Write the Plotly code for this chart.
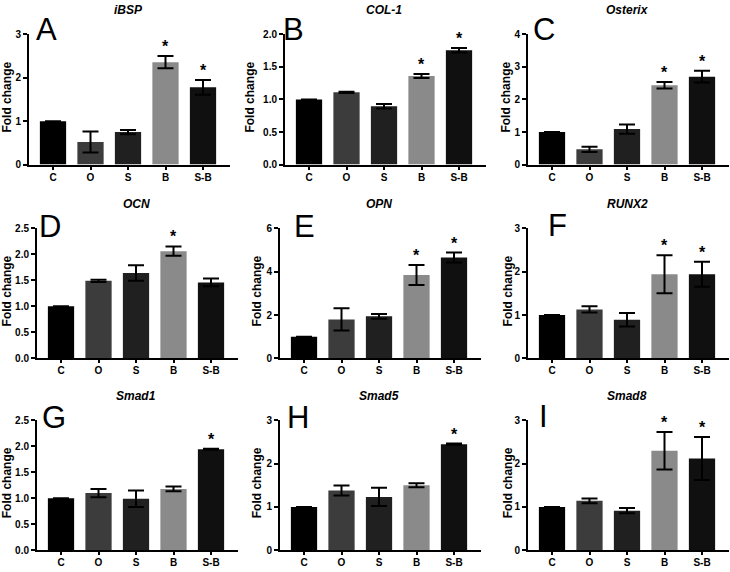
import plotly.graph_objects as go

categories = ["C", "O", "S", "B", "S-B"]
bar_colors = ["#000000", "#3c3c3c", "#202020", "#8a8a8a", "#101010"]

genes = ["iBSP", "COL-1", "Osterix", "OCN", "OPN", "RUNX2", "Smad1", "Smad5", "Smad8"]
letters = ["A", "B", "C", "D", "E", "F", "G", "H", "I"]

# control group (C) has no error bar -> None
ibsp_mean = [1.0, 0.52, 0.75, 2.36, 1.78]
ibsp_err = [None, 0.24, 0.05, 0.14, 0.17]
ibsp_sig = [False, False, False, True, True]

col1_mean = [1.0, 1.11, 0.895, 1.36, 1.755]
col1_err = [None, 0.01, 0.035, 0.03, 0.035]
col1_sig = [False, False, False, True, True]

osx_mean = [1.0, 0.47, 1.09, 2.44, 2.7]
osx_err = [None, 0.08, 0.14, 0.10, 0.18]
osx_sig = [False, False, False, True, True]

ocn_mean = [1.0, 1.49, 1.64, 2.06, 1.46]
ocn_err = [None, 0.02, 0.15, 0.09, 0.075]
ocn_sig = [False, False, False, True, False]

opn_mean = [1.0, 1.8, 1.94, 3.85, 4.65]
opn_err = [None, 0.51, 0.11, 0.46, 0.23]
opn_sig = [False, False, False, True, True]

runx2_mean = [1.0, 1.13, 0.89, 1.94, 1.94]
runx2_err = [None, 0.07, 0.155, 0.44, 0.29]
runx2_sig = [False, False, False, True, True]

smad1_mean = [1.0, 1.1, 0.99, 1.18, 1.94]
smad1_err = [None, 0.08, 0.16, 0.045, 0.01]
smad1_sig = [False, False, False, False, True]

smad5_mean = [1.0, 1.38, 1.23, 1.5, 2.445]
smad5_err = [None, 0.115, 0.21, 0.045, 0.015]
smad5_sig = [False, False, False, False, True]

smad8_mean = [1.0, 1.14, 0.915, 2.295, 2.115]
smad8_err = [None, 0.055, 0.06, 0.43, 0.495]
smad8_sig = [False, False, False, True, True]

y_max = [3, 2.0, 4, 2.5, 6, 3, 2.5, 3, 3]
y_dtick = [1, 0.5, 1, 0.5, 2, 1, 0.5, 1, 1]
y_fmt = ["d", ".1f", "d", ".1f", "d", "d", ".1f", "d", "d"]

means = [ibsp_mean, col1_mean, osx_mean, ocn_mean, opn_mean, runx2_mean, smad1_mean, smad5_mean, smad8_mean]
errs = [ibsp_err, col1_err, osx_err, ocn_err, opn_err, runx2_err, smad1_err, smad5_err, smad8_err]
sigs = [ibsp_sig, col1_sig, osx_sig, ocn_sig, opn_sig, runx2_sig, smad1_sig, smad5_sig, smad8_sig]

W, H = 730, 572
# layout geometry (pixels)
axis_left = [29, 285, 528, 37, 280, 528, 37, 280, 528]
axis_w = 201
row_top = [29, 227, 423]
row_bot = [162, 360, 556]
ylab_x = [7, 250, 506, 7, 257, 508, 7, 257, 508]
letter_x = [34, 281, 531, 37, 292, 546, 40, 285, 537]
letter_y = [24, 24, 24, 225, 225, 224, 420, 420, 419]

FONT = "Arial, Liberation Sans, Helvetica, sans-serif"

fig = go.Figure()
annotations = []

for i in range(9):
    r = i // 3
    ax = "" if i == 0 else str(i + 1)
    xa = "x" + ax
    ya = "y" + ax
    fig.add_trace(go.Bar(
        x=categories, y=means[i],
        marker=dict(color=bar_colors, line=dict(width=0)),
        width=0.7,
        error_y=dict(type="data", array=errs[i], visible=True,
                     color="black", thickness=2, width=8),
        xaxis=xa, yaxis=ya, showlegend=False, hoverinfo="skip",
    ))
    x0 = axis_left[i] / W
    x1 = (axis_left[i] + axis_w) / W
    y0 = 1 - row_bot[r] / H
    y1 = 1 - row_top[r] / H
    fig.layout["xaxis" + ax] = dict(
        domain=[x0, x1], anchor=ya, range=[-0.64, 4.72],
        showline=True, linewidth=2, linecolor="black",
        ticks="outside", ticklen=3, tickwidth=2, tickcolor="black",
        ticklabelstandoff=-1,
        showgrid=False, zeroline=False, fixedrange=True,
        tickfont=dict(family=FONT, size=10, color="black", weight="bold"),
    )
    fig.layout["yaxis" + ax] = dict(
        domain=[y0, y1], anchor=xa, range=[0, y_max[i]],
        dtick=y_dtick[i], tick0=0, tickformat=y_fmt[i],
        showline=True, linewidth=2, linecolor="black",
        ticks="outside", ticklen=4, tickwidth=2, tickcolor="black",
        showgrid=False, zeroline=False, fixedrange=True,
        tickfont=dict(family=FONT, size=10, color="black", weight="bold"),
    )
    # gene title
    annotations.append(dict(
        x=2, y=1 - (row_top[r] - 25) / H, xref=xa, yref="paper",
        text="<b><i>%s</i></b>" % genes[i], showarrow=False,
        xanchor="center", yanchor="middle",
        font=dict(family=FONT, size=12, color="black"),
    ))
    # panel letter
    annotations.append(dict(
        x=letter_x[i] / W, y=1 - letter_y[i] / H, xref="paper", yref="paper",
        text=letters[i], showarrow=False, xanchor="left", yanchor="middle",
        font=dict(family=FONT, size=31, color="black"),
    ))
    # y-axis label
    annotations.append(dict(
        x=ylab_x[i] / W, y=1 - ((row_top[r] + row_bot[r]) / 2 - 2) / H,
        xref="paper", yref="paper", text="<b>Fold change</b>", showarrow=False,
        textangle=-90, xanchor="center", yanchor="middle",
        font=dict(family=FONT, size=12, color="black"),
    ))
    # significance stars
    for j, c in enumerate(categories):
        if sigs[i][j]:
            annotations.append(dict(
                x=c, y=means[i][j] + errs[i][j], xref=xa, yref=ya,
                text="<b>*</b>", showarrow=False, xanchor="center",
                yanchor="bottom", yshift=-1,
                font=dict(family=FONT, size=16, color="black"),
            ))

fig.update_layout(
    width=W, height=H,
    margin=dict(l=0, r=0, t=0, b=0),
    paper_bgcolor="white", plot_bgcolor="white",
    annotations=annotations,
    bargap=0.3,
    hovermode=False,
)

fig.write_html(
    "out.html",
    config={"displayModeBar": False, "staticPlot": True},
    post_script="document.body.style.margin='0';document.body.style.padding='0';",
)
